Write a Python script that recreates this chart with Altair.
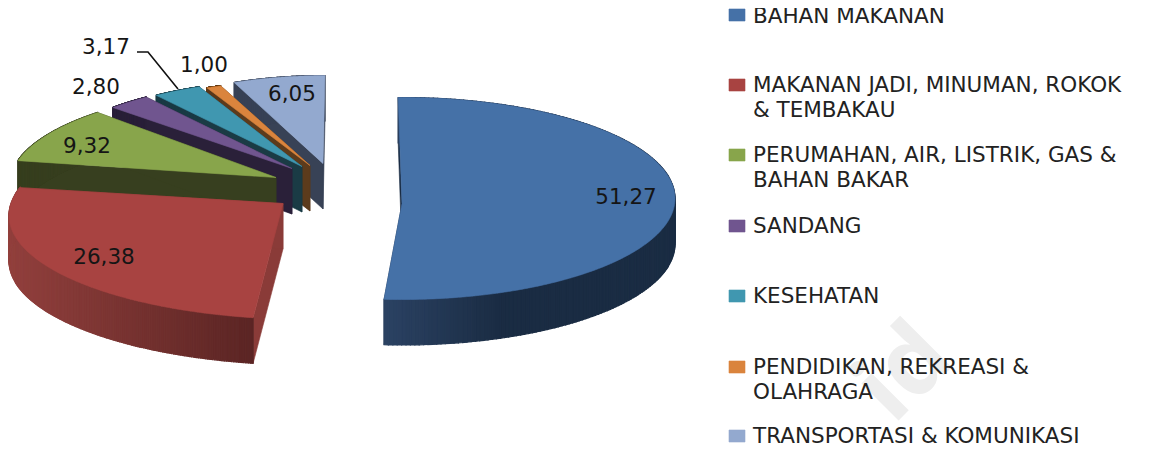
import math
import altair as alt
import pandas as pd

# ---- chart values -------------------------------------------------------
categories = ["BAHAN MAKANAN", "MAKANAN JADI, MINUMAN, ROKOK & TEMBAKAU",
              "PERUMAHAN, AIR, LISTRIK, GAS & BAHAN BAKAR", "SANDANG", "KESEHATAN",
              "PENDIDIKAN, REKREASI & OLAHRAGA", "TRANSPORTASI & KOMUNIKASI"]
values = [51.27, 26.38, 9.32, 2.80, 3.17, 1.00, 6.05]
value_labels = ["51,27", "26,38", "9,32", "2,80", "3,17", "1,00", "6,05"]
legend_lines = [["BAHAN MAKANAN"], ["MAKANAN JADI, MINUMAN, ROKOK", "& TEMBAKAU"],
                ["PERUMAHAN, AIR, LISTRIK, GAS &", "BAHAN BAKAR"], ["SANDANG"], ["KESEHATAN"],
                ["PENDIDIKAN, REKREASI &", "OLAHRAGA"], ["TRANSPORTASI & KOMUNIKASI"]]
watermark = ["id"]

# ---- styling / layout (page pixels minus the 8px margin applied below) ---
top_colors = ["#4571A7", "#A84341", "#88A54B", "#70558F", "#4097B0", "#DA843D", "#93A9CF"]
wall_left = ["#2B4263", "#92403D", "#373F1F", "#2A2039", "#1A3B45", "#5C3B1C", "#384256"]
wall_right = ["#1A2C43", "#5B2524", "#373F1F", "#2A2039", "#1A3B45", "#5C3B1C", "#384256"]
radial_wall = ["#1A2C43", "#8A3B38", "#373F1F", "#2A2039", "#1A3B45", "#5C3B1C", "#384256"]
# per-slice: ellipse centre x, y, radius x, y, apex x, y, angular offset (deg)
geom = [(402, 198.5, 273, 101, 402, 203.5, -0.8),
        (308, 215.5, 299, 104, 283, 203.5, 6.0),
        (280, 184, 270, 97, 276, 177.5, 4.4),
        (275, 179, 240, 97, 292, 168.5, 4.4),
        (286, 175.5, 242, 95, 302, 166.5, 4.4),
        (290, 176.5, 233, 95, 310, 165.5, 4.5),
        (326, 171.5, 245, 96, 323, 163.5, -0.2)]
depth = 45.5
label_pos = [(626, 198), (104, 258), (87, 147), (96, 88), (106, 48), (204, 66), (292, 95)]
legend_x = 729
legend_text_x = 753
legend_y = [15, 85, 155, 226, 296, 367, 436]
legend_text_y = [16.5, 86, 156, 227, 297, 368, 437]
line_gap = 25
leader = [(137, 52), (148, 52), (178, 89)]
M = 8
FONT = "DejaVu Sans"


def px(x, y):
    return [x - M, y - M]


def feat(ring, color, order, sw=0.6):
    return {"type": "Feature", "geometry": {"type": "Polygon", "coordinates": [ring + [ring[0]]]},
            "properties": {"fill": color, "order": order, "sw": sw}}


def mix(a, b, t):
    ca = [int(a[i:i + 2], 16) for i in (1, 3, 5)]
    cb = [int(b[i:i + 2], 16) for i in (1, 3, 5)]
    return "#%02x%02x%02x" % tuple(round(p + (q - p) * t) for p, q in zip(ca, cb))


features = []
order = 0
cum = 0.0
shares = []
for v in values:
    shares.append((cum * 3.6, (cum + v) * 3.6))
    cum += v

for i in reversed(range(len(values))):
    cx, cy, rx, ry, ax, ay, off = geom[i]
    a0, a1 = shares[i][0] + off, shares[i][1] + off
    n = 200
    rim = []
    for k in range(n + 1):
        th = math.radians(a0 + (a1 - a0) * k / n)
        rim.append((cx + rx * math.sin(th), cy - ry * math.cos(th)))
    for corner in (rim[0], rim[-1]):
        ring = [px(ax, ay), px(ax, ay + depth), px(corner[0], corner[1] + depth), px(*corner)]
        features.append(feat(ring, radial_wall[i], order)); order += 1
    xs = [r[0] for r in rim]
    # rim wall in shaded strips, drawn with overlap so no seams show
    for k in range(n):
        p, q = rim[k], rim[k + 1]
        ring = [px(*p), px(*q), px(q[0], q[1] + depth), px(p[0], p[1] + depth)]
        t = (0.5 * (p[0] + q[0]) - min(xs)) / max(1, max(xs) - min(xs))
        if i == 0:
            shade = mix(wall_left[i], wall_right[i], min(1, t / 0.4))
        else:
            shade = mix(wall_left[i], wall_right[i], t)
        features.append(feat(ring, shade, order, 1.2)); order += 1
    ring = [px(ax, ay)] + [px(*r) for r in rim]
    features.append(feat(ring, top_colors[i], order)); order += 1

for i, y in enumerate(legend_y):
    ring = [px(legend_x, y - 6), px(legend_x + 16, y - 6), px(legend_x + 16, y + 6), px(legend_x, y + 6)]
    features.append(feat(ring, top_colors[i], order)); order += 1

shapes = alt.Chart(alt.Data(values=features, format=alt.DataFormat(type="json"))).mark_geoshape().encode(
    fill=alt.Fill("properties.fill:N", scale=None),
    stroke=alt.Stroke("properties.fill:N", scale=None),
    strokeWidth=alt.StrokeWidth("properties.sw:Q", scale=None),
    order=alt.Order("properties.order:Q"),
).project(**{"type": "identity", "scale": 1, "translate": [0, 0]})

X = alt.Scale(domain=[0, 1147], range=[0, 1147])
Y = alt.Scale(domain=[0, 442], range=[0, 442])

wm_df = pd.DataFrame({"t": watermark, "x": [957 - M], "y": [362 - M]})
wm = alt.Chart(wm_df).mark_text(font="Open Sans", fontWeight="bold", fontSize=96, color="#EEEEEE",
                                align="right", baseline="alphabetic", angle=315).encode(
    x=alt.X("x:Q", scale=X, axis=None), y=alt.Y("y:Q", scale=Y, axis=None), text="t:N")

label_df = pd.DataFrame({"t": value_labels,
                         "x": [p[0] - M for p in label_pos],
                         "y": [p[1] - M for p in label_pos]})
labels = alt.Chart(label_df).mark_text(font=FONT, fontSize=21.5, color="#151515", align="center",
                                       baseline="middle").encode(
    x=alt.X("x:Q", scale=X, axis=None), y=alt.Y("y:Q", scale=Y, axis=None), text="t:N")

rows = []
for lines, y in zip(legend_lines, legend_text_y):
    for j, line in enumerate(lines):
        rows.append({"t": line, "x": legend_text_x - M, "y": y + j * line_gap - M})
legend = alt.Chart(pd.DataFrame(rows)).mark_text(font=FONT, fontSize=21.5, color="#222222", align="left",
                                                 baseline="middle").encode(
    x=alt.X("x:Q", scale=X, axis=None), y=alt.Y("y:Q", scale=Y, axis=None), text="t:N")

leader_df = pd.DataFrame({"x": [p[0] - M for p in leader], "y": [p[1] - M for p in leader], "o": [0, 1, 2]})
leader_line = alt.Chart(leader_df).mark_line(color="#111111", strokeWidth=1.6).encode(
    x=alt.X("x:Q", scale=X, axis=None), y=alt.Y("y:Q", scale=Y, axis=None), order="o:Q")

chart = alt.layer(wm, shapes, leader_line, labels, legend).properties(
    width=1147, height=442, padding=0, background="white",
    autosize=alt.AutoSizeParams(type="none"),
).configure_view(stroke=None)

chart.save("out.html", embed_options={"renderer": "svg", "actions": False})
